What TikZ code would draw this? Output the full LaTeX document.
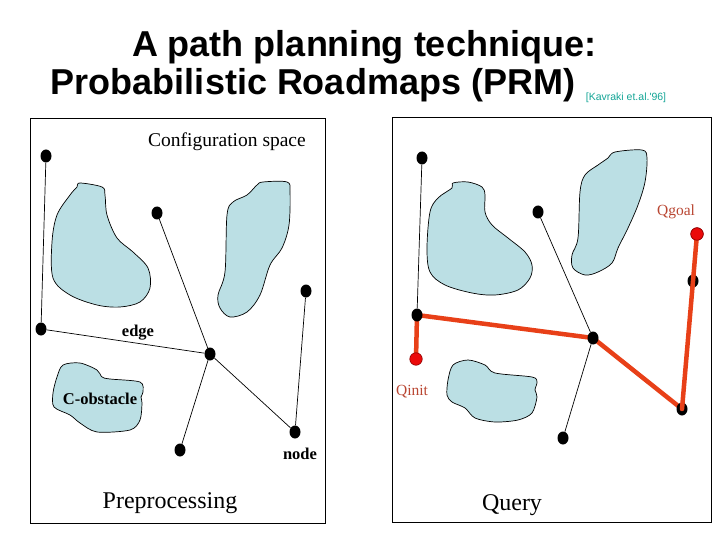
\documentclass[tikz,border=0pt]{standalone}
\usepackage{fontspec}
\setmainfont{Liberation Serif}
\newfontfamily\titlefont{Liberation Sans}
\usetikzlibrary{shapes.geometric,backgrounds}
\definecolor{obst}{RGB}{187,223,228}
\definecolor{pathred}{RGB}{232,64,24}
\definecolor{qred}{RGB}{235,10,10}
\definecolor{qlabel}{RGB}{185,70,50}
\definecolor{citecol}{RGB}{20,165,150}
\begin{document}
\begin{tikzpicture}[x=1pt,y=-1pt,
  vertex/.style={ellipse,fill=black,inner sep=0pt,minimum width=11pt,minimum height=13pt},
  qnode/.style={circle,fill=qred,draw=red!55!black,line width=0.6pt,inner sep=0pt,minimum size=12.5pt},
  obstacle/.style={draw=black,line width=0.7pt,fill=obst},
  frame/.style={draw=black,line width=1pt},
  edgeline/.style={draw=black,line width=0.7pt},
  route/.style={draw=pathred,line width=4.5pt,line cap=round,line join=round},
  lbl/.style={inner sep=0pt,font=\fontsize{16.5}{18}\selectfont\bfseries},
  qlbl/.style={inner sep=0pt,text=qlabel,font=\fontsize{15.5}{17}\selectfont},
  big/.style={inner sep=0pt,font=\fontsize{24}{26}\selectfont},
  titletext/.style={inner sep=0pt,font=\titlefont\bfseries\fontsize{36}{40}\selectfont}
]
\useasboundingbox (0,0) rectangle (720,540);

% title
\node[titletext] (t1) at (364,47) {A path planning technique:};
\node[titletext] (t2) at (313,85) {Probabilistic Roadmaps (PRM)};
\node[inner sep=0pt,text=citecol,font=\titlefont\fontsize{10.5}{12}\selectfont] (cite) at (626,98) {[Kavraki et.al.'96]};

% frames
\draw[frame] (30,119) rectangle (325,523);
\draw[frame] (392,118) rectangle (711,522);

% left obstacles
\draw[obstacle] plot[smooth cycle,tension=0.55] coordinates {(80,183) (102,187) (105,195) (107,215) (117,238) (133,252) (148,268) (150,288) (140,302) (120,307) (97,305) (70,295) (53,278) (52,242) (57,215) (70,195) (77,187)};
\draw[obstacle] plot[smooth cycle,tension=0.55] coordinates {(263,182) (287,182) (290,192) (289,225) (282,248) (270,265) (260,295) (247,312) (230,317) (220,308) (218,295) (225,272) (227,215) (233,202) (247,195) (257,185)};
\draw[obstacle] plot[smooth cycle,tension=0.5] coordinates {(63,365) (80,363) (97,370) (102,377) (110,379) (140,382) (143,392) (141,397) (142,403) (140,420) (130,430) (97,432) (80,423) (70,415) (54,407) (53,393) (57,377)};

% right obstacles
\draw[obstacle] plot[smooth cycle,tension=0.55] coordinates {(453,183) (468,182) (482,187) (485,195) (485,212) (492,225) (508,238) (525,252) (532,265) (530,278) (518,290) (495,295) (472,293) (445,285) (430,272) (427,248) (430,212) (438,198) (452,188)};
\draw[obstacle] plot[smooth cycle,tension=0.55] coordinates {(615,152) (642,150) (647,158) (645,182) (638,205) (628,228) (618,248) (612,263) (598,272) (585,275) (573,268) (572,255) (578,238) (580,192) (585,175) (598,165) (608,158)};
\draw[obstacle] plot[smooth cycle,tension=0.5] coordinates {(453,365) (468,360) (485,365) (495,373) (532,377) (537,382) (535,390) (537,397) (532,413) (518,420) (495,422) (475,418) (465,408) (452,402) (447,395) (448,380)};

% left nodes
\node[vertex] (n1) at (46,156) {};
\node[vertex] (n2) at (157,213) {};
\node[vertex] (n3) at (306,291) {};
\node[vertex] (n4) at (41,329) {};
\node[vertex] (n5) at (210,354) {};
\node[vertex] (n6) at (295,432) {};
\node[vertex] (n7) at (180,450) {};

% right nodes
\node[vertex] (m1) at (422,158) {};
\node[vertex] (m2) at (538,212) {};
\node[vertex] (m4) at (693,281) {};
\node[vertex] (m5) at (417,315) {};
\node[vertex] (m6) at (593,338) {};
\node[vertex] (m8) at (682,409) {};
\node[vertex] (m9) at (563,438) {};

\begin{scope}[on background layer]
  \draw[edgeline] (n1) -- (n4);
  \draw[edgeline] (n4) -- (n5);
  \draw[edgeline] (n2) -- (n5);
  \draw[edgeline] (n5) -- (n7);
  \draw[edgeline] (n5) -- (n6);
  \draw[edgeline] (n3) -- (n6);
  \draw[edgeline] (m1) -- (m5);
  \draw[edgeline] (m2) -- (m6);
  \draw[edgeline] (m6) -- (m9);
  \draw[edgeline] (m4) -- (m8);
\end{scope}

% query nodes
\node[qnode] (m7) at (416,359) {};
\node[qnode] (m3) at (697,234) {};
\begin{scope}[on background layer]
  \draw[route] (m7.center) -- (m5.center) -- (m6.center) -- (m8.center);
\end{scope}
\draw[route] (m8.center) -- (m4.center) -- (m3.center);
\node[qnode] at (m3) {};

% labels
\node[inner sep=0pt,font=\fontsize{19.5}{21}\selectfont] (cs) at (227,142) {Configuration space};
\node[lbl] (le) at (138,333) {edge};
\node[lbl] (lc) at (100,399) {C-obstacle};
\node[lbl] (ln) at (300,454) {node};
\node[big] (lp) at (170,503) {Preprocessing};
\node[big] (lq) at (512,505) {Query};
\node[qlbl] (qg) at (676,212) {Qgoal};
\node[qlbl] (qi) at (412,392) {Qinit};
\end{tikzpicture}
\end{document}
